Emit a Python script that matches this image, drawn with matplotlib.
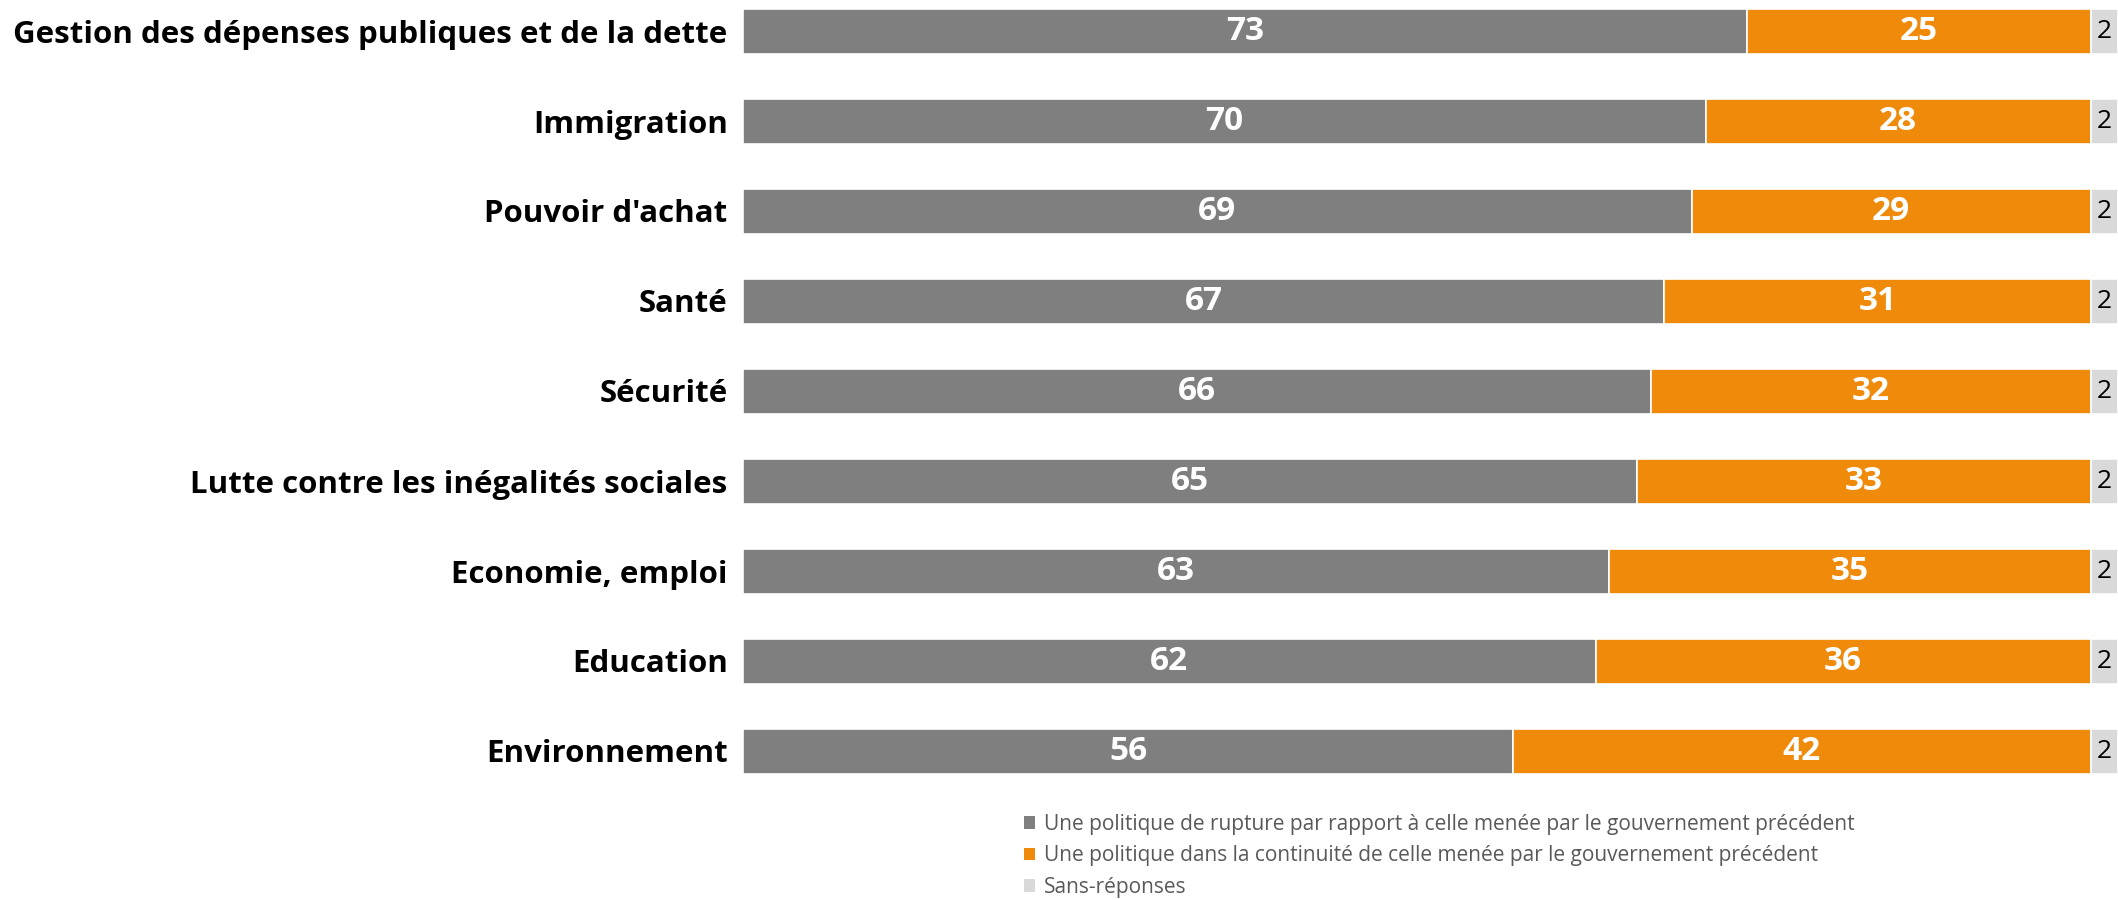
import matplotlib.pyplot as plt
from matplotlib.patches import Patch

categories = [
    "Gestion des dépenses publiques et de la dette",
    "Immigration",
    "Pouvoir d'achat",
    "Santé",
    "Sécurité",
    "Lutte contre les inégalités sociales",
    "Economie, emploi",
    "Education",
    "Environnement",
]
rupture = [73, 70, 69, 67, 66, 65, 63, 62, 56]
continuite = [25, 28, 29, 31, 32, 33, 35, 36, 42]
sans_rep = [2, 2, 2, 2, 2, 2, 2, 2, 2]

series_names = [
    "Une politique de rupture par rapport à celle menée par le gouvernement précédent",
    "Une politique dans la continuité de celle menée par le gouvernement précédent",
    "Sans-réponses",
]
colors = ["#7F7F7F", "#F08A0B", "#D9D9D9"]

plt.rcParams["font.family"] = ["Open Sans", "DejaVu Sans"]

W, H = 2118, 900
fig = plt.figure(figsize=(W / 100, H / 100), dpi=100)

# axes placement in pixels
x0 = 743
first_c, step = 31, 90
ylo, yhi = -0.34, 8.4
top_px = first_c + ylo * step
bot_px = first_c + yhi * step
ax = fig.add_axes([x0 / W, 1 - bot_px / H, (W - x0) / W, (bot_px - top_px) / H])

ypos = list(range(len(categories)))
left = [0] * len(categories)
for vals, col, lbl_color, weight in [
    (rupture, colors[0], "white", "bold"),
    (continuite, colors[1], "white", "bold"),
    (sans_rep, colors[2], "black", "normal"),
]:
    bars = ax.barh(ypos, vals, left=left, height=0.5, color=col,
                   edgecolor="white", linewidth=1.2)
    for b, v in zip(bars, vals):
        ax.text(b.get_x() + b.get_width() / 2, b.get_y() + b.get_height() / 2,
                f"{v}", ha="center", va="center", color=lbl_color,
                fontsize=24 if weight == "bold" else 19, fontweight=weight)
    left = [l + v for l, v in zip(left, vals)]

ax.set_xlim(0, 100)
ax.set_ylim(yhi, ylo)
ax.set_yticks(ypos)
ax.set_yticklabels(categories, fontsize=22.5, fontweight="bold")
ax.tick_params(axis="y", length=0, pad=11)
ax.set_xticks([])
for s in ax.spines.values():
    s.set_visible(False)

handles = [Patch(facecolor=c, edgecolor="none") for c in colors]
fig.legend(handles, series_names, loc="upper left",
           bbox_to_anchor=(1024 / W, 1 - 814 / H), frameon=False,
           fontsize=15, labelcolor="#595959", handlelength=0.55,
           handleheight=0.55, handletextpad=0.4, labelspacing=0.5,
           borderaxespad=0, borderpad=0)

fig.savefig("out.png", dpi=100)
